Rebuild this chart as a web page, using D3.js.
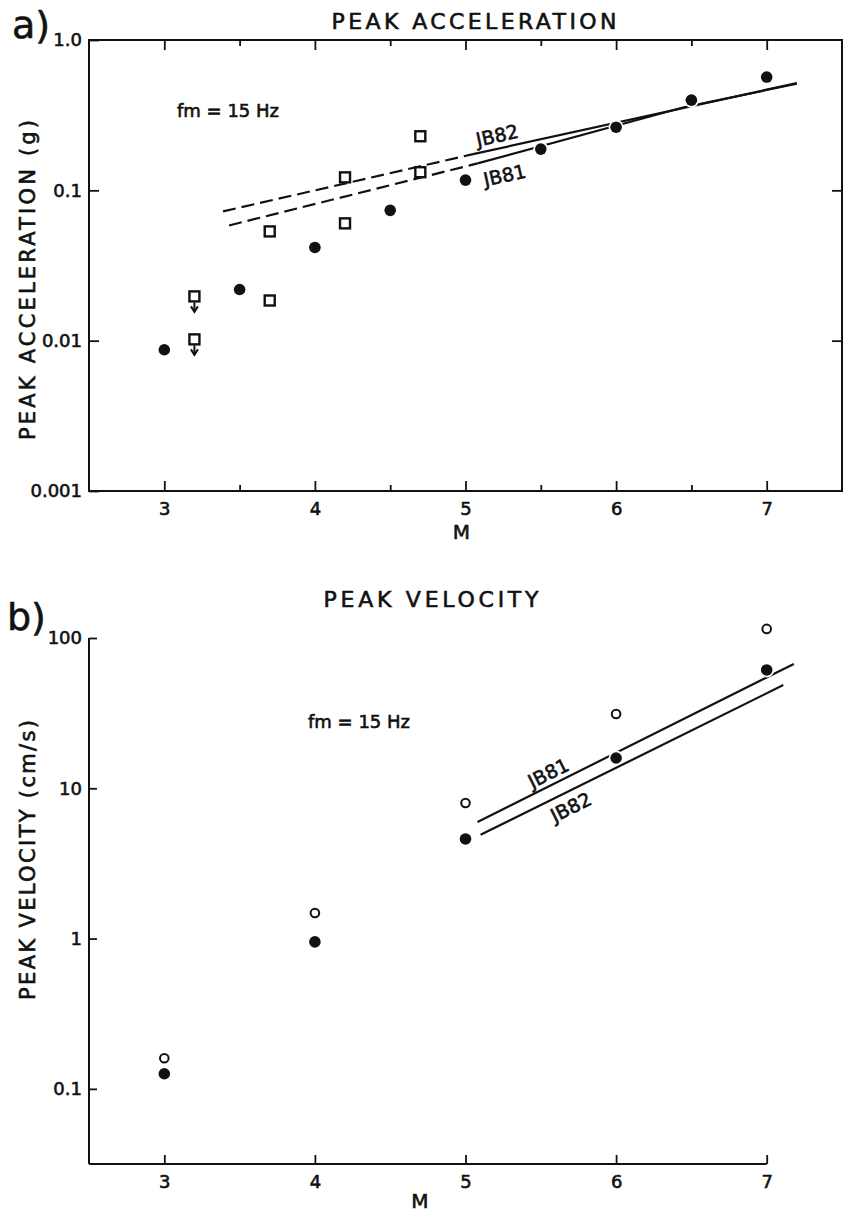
<!DOCTYPE html>
<html><head><meta charset="utf-8">
<script src="https://cdn.jsdelivr.net/npm/d3@7"></script>
<style>
body{margin:0;background:#fff}
svg{display:block}
text{font-family:"DejaVu Sans","Liberation Sans",sans-serif;fill:#111;stroke:#111;stroke-width:0.6px}
</style>
</head><body>
<svg id="chart" width="844" height="1213"></svg>
<script>
// ---------- data ----------
// panel a: peak acceleration (g)
const accM        = [3, 3.5, 4, 4.5, 5, 5.5, 6, 6.5, 7];
const accObserved = [0.0087, 0.0219, 0.0417, 0.0736, 0.117, 0.188, 0.263, 0.398, 0.567];
const accSquareM  = [3.2, 3.2, 3.7, 3.7, 4.2, 4.2, 4.7, 4.7];
const accSquare   = [0.0197, 0.0102, 0.0533, 0.0185, 0.122, 0.0603, 0.229, 0.132];
const accUpperBound = [true, true, false, false, false, false, false, false];
const jb82AccM = [3.39, 5.05, 7.2];
const jb82Acc  = [0.0724, 0.174, 0.517];
const jb81AccM = [3.43, 5.08, 6.45, 7.2];
const jb81Acc  = [0.0584, 0.151, 0.357, 0.512];
// panel b: peak velocity (cm/s)
const velM      = [3, 4, 5, 6, 7];
const velFilled = [0.126, 0.95, 4.6, 15.9, 61.3];
const velOpen   = [0.16, 1.48, 7.98, 31.2, 115];
const jb81VelM = [5.08, 7.18];
const jb81Vel  = [5.97, 67.2];
const jb82VelM = [5.10, 7.11];
const jb82Vel  = [4.9, 48.6];
// ticks
const mMajor = [3, 4, 5, 6, 7];
const mMinor = [3.5, 4.5, 5.5, 6.5];
const accTicks = [1, 0.1, 0.01, 0.001];
const accTickLabels = ["1.0", "0.1", "0.01", "0.001"];
const velTicks = [100, 10, 1, 0.1];
const velTickLabels = ["100", "10", "1", "0.1"];

// ---------- layout ----------
const svg = d3.select("#chart");
const L = 89, R = 842;
const x = d3.scaleLinear().domain([2.5, 7.5]).range([L, R]);
const yA = d3.scaleLog().domain([0.001, 1]).range([491, 40]);
const yV = d3.scaleLog().domain([Math.pow(10, -1.5), 100]).range([1164, 638]);
const INK = "#111";

function styleAxis(g){
  g.selectAll("path.domain").remove();
  g.selectAll(".tick line").attr("stroke", INK).attr("stroke-width", 1.8);
  g.selectAll(".tick text").attr("font-size", 18).attr("fill", INK)
    .style("font-family", '"DejaVu Sans",sans-serif');
}

// ================= PANEL A =================
const gA = svg.append("g");
gA.append("rect").attr("x", L).attr("y", yA(1)).attr("width", R - L).attr("height", yA(0.001) - yA(1))
  .attr("fill", "none").attr("stroke", INK).attr("stroke-width", 2);
gA.append("g").attr("transform", `translate(0,${yA(0.001)})`)
  .call(d3.axisBottom(x).tickValues(mMajor).tickSize(-10).tickPadding(11).tickFormat(d3.format("d")))
  .call(styleAxis);
gA.append("g").attr("transform", `translate(0,${yA(0.001)})`)
  .call(d3.axisBottom(x).tickValues(mMinor).tickSize(-6).tickFormat(""))
  .call(styleAxis);
gA.append("g").attr("transform", `translate(0,${yA(1)})`)
  .call(d3.axisBottom(x).tickValues(mMajor).tickSize(10).tickFormat(""))
  .call(styleAxis);
gA.append("g").attr("transform", `translate(0,${yA(1)})`)
  .call(d3.axisBottom(x).tickValues(mMinor).tickSize(6).tickFormat(""))
  .call(styleAxis);
gA.append("g").attr("transform", `translate(${L},0)`)
  .call(d3.axisLeft(yA).tickValues(accTicks).tickSize(-10).tickPadding(7)
    .tickFormat(d => accTickLabels[accTicks.indexOf(d)]))
  .call(styleAxis);
gA.append("g").attr("transform", `translate(${R},0)`)
  .call(d3.axisRight(yA).tickValues([0.1, 0.01]).tickSize(-10).tickFormat(""))
  .call(styleAxis);

const lineA = d3.line().x(d => x(d[0])).y(d => yA(d[1]));
function drawSplit(g, ms, vs, splitIdx, line){
  const pts = ms.map((m, i) => [m, vs[i]]);
  g.append("path").attr("d", line(pts.slice(0, splitIdx + 1))).attr("fill", "none")
    .attr("stroke", INK).attr("stroke-width", 2.2).attr("stroke-dasharray", "13,6");
  g.append("path").attr("d", line(pts.slice(splitIdx))).attr("fill", "none")
    .attr("stroke", INK).attr("stroke-width", 2.2);
}
drawSplit(gA, jb82AccM, jb82Acc, 1, lineA);
drawSplit(gA, jb81AccM, jb81Acc, 1, lineA);

const sqData = accSquareM.map((m, i) => [m, accSquare[i], accUpperBound[i]]);
gA.selectAll("rect.sq").data(sqData)
  .join("rect").attr("class", "sq")
  .attr("x", d => x(d[0]) - 5).attr("y", d => yA(d[1]) - 5)
  .attr("width", 10).attr("height", 10)
  .attr("fill", "#fff").attr("stroke", INK).attr("stroke-width", 2.4);
sqData.filter(d => d[2]).forEach(d => {
  const cx = x(d[0]), cy = yA(d[1]);
  gA.append("line").attr("x1", cx).attr("x2", cx).attr("y1", cy + 6).attr("y2", cy + 15)
    .attr("stroke", INK).attr("stroke-width", 2);
  gA.append("path").attr("d", `M${cx - 3.5},${cy + 10} L${cx},${cy + 15.5} L${cx + 3.5},${cy + 10}`)
    .attr("fill", "none").attr("stroke", INK).attr("stroke-width", 2);
});
function dots(g, cls, ms, vs, y){
  const data = ms.map((m, i) => [m, vs[i]]);
  g.selectAll("circle." + cls + "h").data(data).join("circle").attr("class", cls + "h")
    .attr("cx", d => x(d[0])).attr("cy", d => y(d[1])).attr("r", 7.5).attr("fill", "#fff");
  g.selectAll("circle." + cls).data(data).join("circle").attr("class", cls)
    .attr("cx", d => x(d[0])).attr("cy", d => y(d[1])).attr("r", 5.8).attr("fill", INK);
}
dots(gA, "obsA", accM, accObserved, yA);

function angleOf(ms, vs, y){
  const n = ms.length - 1;
  return Math.atan2(y(vs[n]) - y(vs[0]), x(ms[n]) - x(ms[0])) * 180 / Math.PI;
}
function lineLabel(g, txt, m, v, y, ang){
  g.append("text").attr("transform", `translate(${x(m)},${y(v)}) rotate(${ang})`)
    .attr("text-anchor", "middle").attr("dy", "0.36em").attr("font-size", 19).text(txt);
}
lineLabel(gA, "JB82", 5.21, 0.232, yA, angleOf(jb82AccM, jb82Acc, yA));
lineLabel(gA, "JB81", 5.26, 0.126, yA, angleOf(jb82AccM, jb82Acc, yA));

gA.append("text").attr("x", 474).attr("y", 29).attr("text-anchor", "middle")
  .attr("font-size", 22).attr("textLength", 285).attr("lengthAdjust", "spacing").text("PEAK ACCELERATION");
gA.append("text").attr("x", 12).attr("y", 38).attr("font-size", 38).text("a)");
gA.append("text").attr("x", 177).attr("y", 117).attr("font-size", 18).text("fm = 15 Hz");
gA.append("text").attr("x", (L + R) / 2 - 4).attr("y", 539).attr("text-anchor", "middle")
  .attr("font-size", 20).text("M");
gA.append("text").attr("transform", `translate(35,280) rotate(-90)`).attr("text-anchor", "middle")
  .attr("font-size", 21).attr("textLength", 320).attr("lengthAdjust", "spacing")
  .text("PEAK ACCELERATION (g)");

// ================= PANEL B =================
const gB = svg.append("g");
const xB = d3.scaleLinear().domain([2.5, 7]).range([L, x(7)]);
gB.append("g").attr("transform", `translate(${L},0)`)
  .call(d3.axisLeft(yV).tickValues(velTicks).tickSize(-8).tickPadding(7)
    .tickFormat(d => velTickLabels[velTicks.indexOf(d)]))
  .call(styleAxis);
gB.append("line").attr("x1", L).attr("x2", L).attr("y1", yV(100)).attr("y2", yV.range()[0])
  .attr("stroke", INK).attr("stroke-width", 2);
gB.append("g").attr("transform", `translate(0,${yV.range()[0]})`)
  .call(d3.axisBottom(xB).tickValues(mMajor).tickSize(-9).tickPadding(11).tickFormat(d3.format("d")))
  .call(styleAxis);
gB.append("line").attr("x1", L).attr("x2", x(7)).attr("y1", yV.range()[0]).attr("y2", yV.range()[0])
  .attr("stroke", INK).attr("stroke-width", 2);

const lineB = d3.line().x(d => x(d[0])).y(d => yV(d[1]));
gB.append("path").attr("d", lineB(jb81VelM.map((m, i) => [m, jb81Vel[i]])))
  .attr("fill", "none").attr("stroke", INK).attr("stroke-width", 2.2);
gB.append("path").attr("d", lineB(jb82VelM.map((m, i) => [m, jb82Vel[i]])))
  .attr("fill", "none").attr("stroke", INK).attr("stroke-width", 2.2);

gB.selectAll("circle.open").data(velM.map((m, i) => [m, velOpen[i]]))
  .join("circle").attr("class", "open")
  .attr("cx", d => x(d[0])).attr("cy", d => yV(d[1])).attr("r", 4.3)
  .attr("fill", "#fff").attr("stroke", INK).attr("stroke-width", 2);
dots(gB, "obsV", velM, velFilled, yV);

lineLabel(gB, "JB81", 5.55, 12.65, yV, angleOf(jb81VelM, jb81Vel, yV));
lineLabel(gB, "JB82", 5.70, 7.5, yV, angleOf(jb82VelM, jb82Vel, yV));

gB.append("text").attr("x", 431).attr("y", 607).attr("text-anchor", "middle")
  .attr("font-size", 22).attr("textLength", 215).attr("lengthAdjust", "spacing").text("PEAK VELOCITY");
gB.append("text").attr("x", 7).attr("y", 630).attr("font-size", 38).text("b)");
gB.append("text").attr("x", 308).attr("y", 728).attr("font-size", 18).text("fm = 15 Hz");
gB.append("text").attr("x", 420).attr("y", 1208).attr("text-anchor", "middle")
  .attr("font-size", 20).text("M");
gB.append("text").attr("transform", `translate(35,860) rotate(-90)`).attr("text-anchor", "middle")
  .attr("font-size", 21).attr("textLength", 280).attr("lengthAdjust", "spacing")
  .text("PEAK VELOCITY (cm/s)");
</script>
</body></html>
